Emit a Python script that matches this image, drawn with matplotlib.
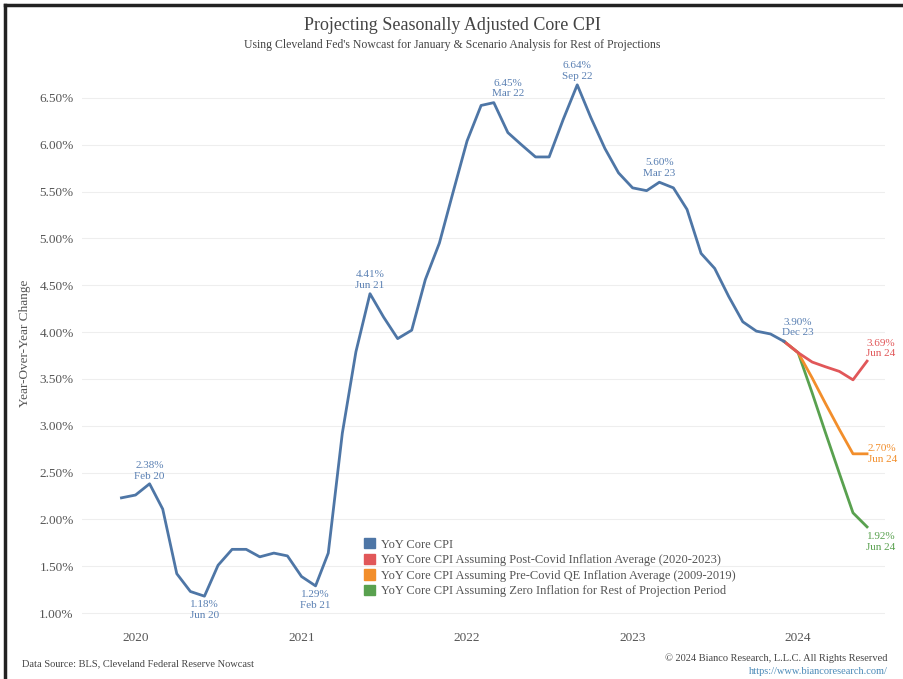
import pandas as pd
import matplotlib
matplotlib.use('Agg')
import matplotlib.pyplot as plt
import matplotlib.dates as mdates
from matplotlib.patches import Patch
from matplotlib.lines import Line2D

# YoY core CPI, monthly Dec 2019 - Dec 2023
core_cpi = [2.23, 2.26, 2.38, 2.11, 1.42, 1.23, 1.18, 1.51, 1.68, 1.68, 1.60, 1.64, 1.61,
            1.39, 1.29, 1.64, 2.92, 3.79, 4.41, 4.16, 3.93, 4.02, 4.56, 4.95, 5.49,
            6.04, 6.42, 6.45, 6.13, 6.00, 5.87, 5.87, 6.27, 6.64, 6.29, 5.96, 5.70,
            5.54, 5.51, 5.60, 5.54, 5.31, 4.84, 4.68, 4.38, 4.11, 4.01, 3.98, 3.90]
# projections, Dec 2023 - Jun 2024
post_covid = [3.90, 3.78, 3.68, 3.63, 3.58, 3.49, 3.69]
pre_covid_qe = [3.90, 3.78, 3.51, 3.24, 2.96, 2.70, 2.70]
zero_infl = [3.90, 3.78, 3.35, 2.93, 2.49, 2.07, 1.92]

hist_dates = pd.date_range('2019-12-01', periods=len(core_cpi), freq='MS')
proj_dates = pd.date_range('2023-12-01', periods=len(post_covid), freq='MS')

legend_labels = ['YoY Core CPI',
                 'YoY Core CPI Assuming Post-Covid Inflation Average (2020-2023)',
                 'YoY Core CPI Assuming Pre-Covid QE Inflation Average (2009-2019)',
                 'YoY Core CPI Assuming Zero Inflation for Rest of Projection Period']

BLUE = '#4e76a6'
BLUE_TXT = '#5a80b3'
RED = '#e15759'
ORANGE = '#f28e2b'
GREEN = '#59a14f'
GRAY = '#555555'

plt.rcParams['font.family'] = ['Liberation Serif', 'DejaVu Serif']

fig = plt.figure(figsize=(9.04, 6.79), dpi=100)
ax = fig.add_axes([0.0907, 0.0795, 0.888, 0.831])

ax.plot(proj_dates, zero_infl, color=GREEN, lw=2)
ax.plot(proj_dates, pre_covid_qe, color=ORANGE, lw=2)
ax.plot(proj_dates, post_covid, color=RED, lw=2)
ax.plot(hist_dates, core_cpi, color=BLUE, lw=2)

ax.set_ylim(0.872, 6.897)
ax.set_xlim(pd.Timestamp('2019-09-05'), pd.Timestamp('2024-07-10'))
ax.set_yticks([1.0 + 0.5 * i for i in range(12)])
ax.set_yticklabels(['%.2f%%' % (1.0 + 0.5 * i) for i in range(12)])
ax.xaxis.set_major_locator(mdates.YearLocator())
ax.xaxis.set_major_formatter(mdates.DateFormatter('%Y'))
ax.tick_params(length=0, labelsize=9.5, labelcolor=GRAY, pad=6)
ax.tick_params(axis='x', pad=5)
ax.grid(axis='y', color='#eeeeee', lw=0.8)
for s in ax.spines.values():
    s.set_visible(False)
ax.set_ylabel('Year-Over-Year Change', fontsize=9.5, color=GRAY, labelpad=6)

# point labels: offset in points from the data point
def mark(d, v, txt, col, dx, dy, va, ha='center'):
    ax.annotate(txt, (pd.Timestamp(d), v), xytext=(dx, dy), textcoords='offset points',
                ha=ha, va=va, fontsize=8, color=col, linespacing=1.25)

mark('2020-02-01', 2.38, '2.38%\nFeb 20', BLUE_TXT, 0, 2, 'bottom')
mark('2020-06-01', 1.18, '1.18%\nJun 20', BLUE_TXT, 0, -3, 'top')
mark('2021-02-01', 1.29, '1.29%\nFeb 21', BLUE_TXT, 0, -3, 'top')
mark('2021-06-01', 4.41, '4.41%\nJun 21', BLUE_TXT, 0, 3, 'bottom')
mark('2022-03-01', 6.45, '6.45%\nMar 22', BLUE_TXT, 10, 3, 'bottom')
mark('2022-09-01', 6.64, '6.64%\nSep 22', BLUE_TXT, 0, 3, 'bottom')
mark('2023-03-01', 5.60, '5.60%\nMar 23', BLUE_TXT, 0, 3, 'bottom')
mark('2023-12-01', 3.90, '3.90%\nDec 23', BLUE_TXT, 10, 3, 'bottom')
mark('2024-06-01', 3.69, '3.69%\nJun 24', RED, 10, 2, 'bottom')
mark('2024-06-01', 2.70, '2.70%\nJun 24', ORANGE, 11, 0, 'center')
mark('2024-06-01', 1.92, '1.92%\nJun 24', GREEN, 10, -4, 'top')

handles = [Patch(facecolor=c, edgecolor=c) for c in [BLUE, RED, ORANGE, GREEN]]
leg = ax.legend(handles, legend_labels, loc='lower left', bbox_to_anchor=(0.345, 0.04),
                frameon=False, fontsize=9, handlelength=0.9, handleheight=0.9,
                handletextpad=0.5, labelspacing=0.25, borderaxespad=0)
for t in leg.get_texts():
    t.set_color(GRAY)

fig.text(0.5, 0.975, 'Projecting Seasonally Adjusted Core CPI', ha='center', va='top',
         fontsize=13, color='#444444')
fig.text(0.5, 0.943, "Using Cleveland Fed's Nowcast for January & Scenario Analysis for Rest of Projections",
         ha='center', va='top', fontsize=8.5, color='#444444')
fig.text(0.024, 0.023, 'Data Source: BLS, Cleveland Federal Reserve Nowcast', ha='left', va='center',
         fontsize=7.5, color='#444444')
fig.text(0.982, 0.031, '\u00a9 2024 Bianco Research, L.L.C. All Rights Reserved', ha='right', va='center',
         fontsize=7.5, color='#444444')
fig.text(0.982, 0.011, 'https://www.biancoresearch.com/', ha='right', va='center',
         fontsize=7.5, color='#4a8ab8')

# screenshot frame (top and left edges)
fig.add_artist(Line2D([0.006, 0.006], [0.0, 0.993], transform=fig.transFigure, color='#222222', lw=2.5))
fig.add_artist(Line2D([0.006, 1.0], [0.993, 0.993], transform=fig.transFigure, color='#222222', lw=2.5))

fig.savefig('out.png', dpi=100)
